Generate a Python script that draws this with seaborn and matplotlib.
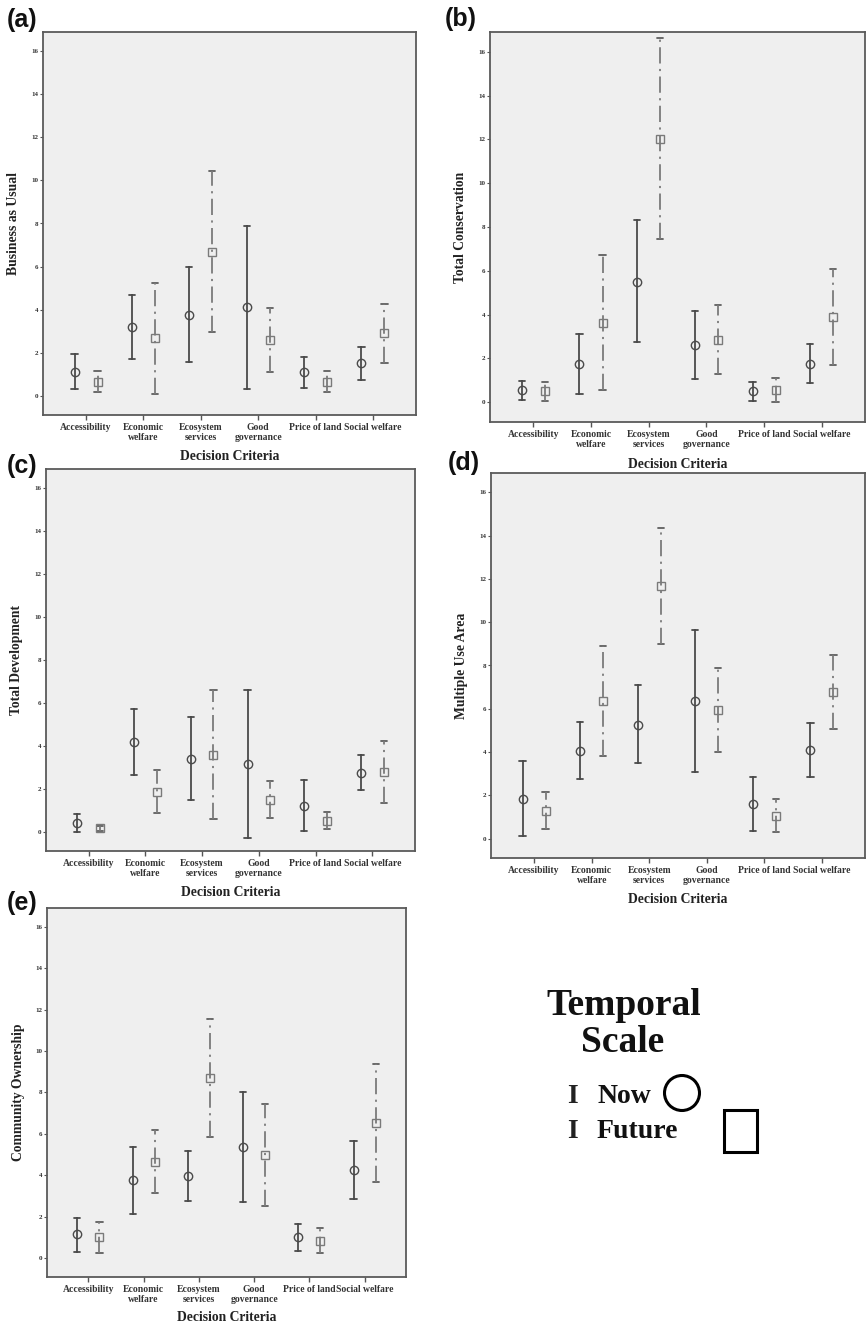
import numpy as np
import pandas as pd
import matplotlib
matplotlib.use("Agg")
import matplotlib.pyplot as plt
import seaborn as sns
from matplotlib.patches import Circle, Rectangle

# ---------------- data ----------------
categories = ["Accessibility", "Economic\nwelfare", "Ecosystem\nservices",
              "Good\ngovernance", "Price of land", "Social welfare"]
times = ["Now", "Future"]
yticks = [0, 2, 4, 6, 8, 10, 12, 14, 16]

# (a) Business as Usual
bau_now_mean = [1.11, 3.20, 3.74, 4.10, 1.08, 1.50]
bau_now_low = [0.31, 1.70, 1.58, 0.31, 0.37, 0.73]
bau_now_high = [1.93, 4.67, 5.97, 7.87, 1.79, 2.26]
bau_fut_mean = [0.65, 2.66, 6.68, 2.57, 0.65, 2.89]
bau_fut_low = [0.17, 0.09, 2.94, 1.08, 0.17, 1.50]
bau_fut_high = [1.16, 5.24, 10.46, 4.05, 1.14, 4.28]

# (b) Total Conservation
tc_now_mean = [0.55, 1.76, 5.50, 2.60, 0.50, 1.74]
tc_now_low = [0.11, 0.38, 2.75, 1.07, 0.06, 0.86]
tc_now_high = [0.99, 3.13, 8.30, 4.16, 0.93, 2.65]
tc_fut_mean = [0.50, 3.64, 12.00, 2.86, 0.55, 3.87]
tc_fut_low = [0.06, 0.55, 7.43, 1.30, 0.00, 1.69]
tc_fut_high = [0.93, 6.74, 16.62, 4.42, 1.09, 6.09]

# (c) Total Development
td_now_mean = [0.39, 4.16, 3.39, 3.14, 1.21, 2.75]
td_now_low = [0.00, 2.64, 1.48, -0.28, 0.02, 1.96]
td_now_high = [0.82, 5.73, 5.36, 6.58, 2.39, 3.59]
td_fut_mean = [0.16, 1.86, 3.57, 1.48, 0.50, 2.78]
td_fut_low = [0.04, 0.89, 0.57, 0.64, 0.12, 1.35]
td_fut_high = [0.28, 2.87, 6.58, 2.34, 0.90, 4.22]

# (d) Multiple Use Area
mu_now_mean = [1.82, 4.06, 5.27, 6.34, 1.59, 4.10]
mu_now_low = [0.12, 2.77, 3.48, 3.08, 0.36, 2.86]
mu_now_high = [3.57, 5.38, 7.08, 9.63, 2.83, 5.36]
mu_fut_mean = [1.25, 6.35, 11.68, 5.92, 1.05, 6.77]
mu_fut_low = [0.43, 3.83, 9.01, 3.99, 0.31, 5.05]
mu_fut_high = [2.13, 8.89, 14.37, 7.87, 1.81, 8.50]

# (e) Community Ownership
co_now_mean = [1.16, 3.77, 3.96, 5.38, 1.01, 4.25]
co_now_low = [0.32, 2.15, 2.76, 2.71, 0.37, 2.84]
co_now_high = [1.97, 5.38, 5.18, 8.04, 1.65, 5.65]
co_fut_mean = [1.01, 4.65, 8.70, 4.98, 0.83, 6.52]
co_fut_low = [0.24, 3.13, 5.86, 2.54, 0.24, 3.68]
co_fut_high = [1.77, 6.21, 11.56, 7.43, 1.44, 9.36]

panels = [
    ("(a)", "Business as Usual", bau_now_low, bau_now_mean, bau_now_high, bau_fut_low, bau_fut_mean, bau_fut_high),
    ("(b)", "Total Conservation", tc_now_low, tc_now_mean, tc_now_high, tc_fut_low, tc_fut_mean, tc_fut_high),
    ("(c)", "Total Development", td_now_low, td_now_mean, td_now_high, td_fut_low, td_fut_mean, td_fut_high),
    ("(d)", "Multiple Use Area", mu_now_low, mu_now_mean, mu_now_high, mu_fut_low, mu_fut_mean, mu_fut_high),
    ("(e)", "Community Ownership", co_now_low, co_now_mean, co_now_high, co_fut_low, co_fut_mean, co_fut_high),
]

# ---------------- style ----------------
sns.set_style("ticks")
SERIF = ["Liberation Serif", "DejaVu Serif"]
SANS = ["Liberation Sans", "DejaVu Sans"]
plt.rcParams["font.family"] = SERIF
plt.rcParams["font.weight"] = "bold"

W, H = 866, 1325
fig = plt.figure(figsize=(W / 100, H / 100), dpi=100)
fig.patch.set_facecolor("white")

# axes boxes in pixels: left, top, right, bottom
boxes = [
    (43, 32, 416, 415),
    (490, 32, 865, 422),
    (46, 469, 415, 851),
    (491, 473, 865, 858),
    (47, 908, 406, 1277),
]
letter_pos = [(7, 20), (445, 19), (7, 466), (448, 463), (7, 903)]

NOW_C = "#4a4a4a"
FUT_C = "#7a7a7a"


def long_frame(nl, nm, nh, fl, fm, fh):
    rows = []
    for i, cat in enumerate(categories):
        for v in (nl[i], nm[i], nh[i]):
            rows.append((cat, "Now", v))
        for v in (fl[i], fm[i], fh[i]):
            rows.append((cat, "Future", v))
    return pd.DataFrame(rows, columns=["criteria", "time", "value"])


for (letter, ylabel, nl, nm, nh, fl, fm, fh), (l, t, r, b), (lx, ly) in zip(panels, boxes, letter_pos):
    ax = fig.add_axes([l / W, 1 - b / H, (r - l) / W, (b - t) / H])
    ax.set_facecolor("#efefef")
    df = long_frame(nl, nm, nh, fl, fm, fh)
    sns.pointplot(
        data=df, x="criteria", y="value", hue="time",
        order=categories, hue_order=times,
        estimator=np.median, errorbar=lambda v: (v.min(), v.max()),
        dodge=0.4, markers=["o", "s"], linestyles="none",
        palette={"Now": NOW_C, "Future": FUT_C},
        capsize=0.11, err_kws={"linewidth": 1.3},
        markersize=6, markeredgewidth=1.0, legend=False, ax=ax,
    )
    # restyle: open markers, dash-dot future whiskers
    for line in list(ax.lines):
        if line.get_marker() in ("o", "s"):
            line.set_markerfacecolor("none")
            line.set_zorder(5)
            continue
        col = matplotlib.colors.to_hex(line.get_color())
        xd, yd = np.asarray(line.get_xdata(), float), np.asarray(line.get_ydata(), float)
        if col == matplotlib.colors.to_hex(FUT_C) and len(xd) == 8:
            line.set_data(np.r_[xd[0:3], xd[6:8]], np.r_[yd[0:3], yd[6:8]])
            line.set_color("#5e5e5e")
            ax.plot(xd[3:5], yd[3:5], color=FUT_C, lw=1.3,
                    dashes=(9, 3, 1.2, 3), zorder=2)
        else:
            line.set_color(NOW_C)

    ax.set_xlim(-0.75, 5.75)
    ax.set_ylim(-0.9, 16.9)
    ax.set_yticks(yticks)
    ax.set_yticklabels([str(v) for v in yticks])
    ax.set_xticks(range(len(categories)))
    ax.set_xticklabels(categories, fontsize=6.9, fontweight="bold", linespacing=1.05)
    for lab in ax.get_yticklabels():
        lab.set_fontsize(5)
        lab.set_fontweight("bold")
    ax.tick_params(axis="x", length=3.5, width=1.0, color="#555555", pad=2.5, labelcolor="#333333")
    ax.tick_params(axis="y", length=2.5, width=0.8, color="#555555", pad=1.0, labelcolor="#333333")
    for sp in ax.spines.values():
        sp.set_visible(True)
        sp.set_color("#5a5a5a")
        sp.set_linewidth(1.3)
    ax.set_xlabel("Decision Criteria", fontsize=9.8, fontweight="bold", color="#222222")
    ax.set_ylabel(ylabel, fontsize=9.8, fontweight="bold", color="#222222")
    ax.xaxis.set_label_coords(0.5, -0.092)
    ax.yaxis.set_label_coords(-0.062, 0.5)
    fig.text(lx / W, 1 - ly / H, letter, fontsize=18, fontweight="bold",
             family=SANS, va="center", ha="left", color="#111111")

# ---------------- legend (Temporal Scale) ----------------
lax = fig.add_axes([0, 0, 1, 1], facecolor="none")
lax.set_xlim(0, W)
lax.set_ylim(H, 0)
lax.axis("off")
lax.text(624, 1015, "Temporal", fontsize=27, fontweight="bold", ha="center", va="baseline", color="#111111")
lax.text(623, 1052, "Scale", fontsize=27, fontweight="bold", ha="center", va="baseline", color="#111111")
lax.text(572, 1103, "I", fontsize=20, fontweight="bold", ha="center", va="baseline", color="#222222")
lax.text(597, 1103, "Now", fontsize=20, fontweight="bold", ha="left", va="baseline", color="#111111")
lax.text(572, 1138, "I", fontsize=20, fontweight="bold", ha="center", va="baseline", color="#222222")
lax.text(597, 1138, "Future", fontsize=20, fontweight="bold", ha="left", va="baseline", color="#111111")
lax.add_patch(Circle((682, 1093), 17.5, fill=False, lw=2.2, ec="black"))
lax.add_patch(Rectangle((724, 1110), 33, 42, fill=False, lw=2.2, ec="black"))

fig.savefig("out.png", dpi=100)
